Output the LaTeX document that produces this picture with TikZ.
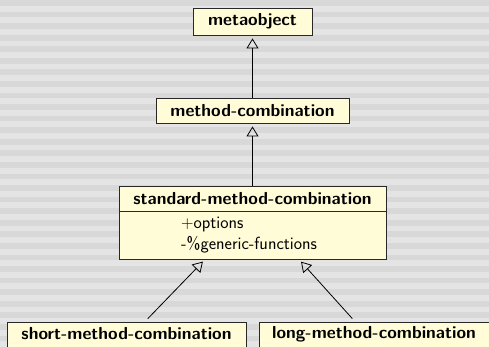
\documentclass[tikz,border=0pt]{standalone}
\usetikzlibrary{arrows.meta}
\definecolor{stripeA}{RGB}{216,216,216}
\definecolor{stripeB}{RGB}{228,228,228}
\definecolor{classfill}{RGB}{255,252,215}
\definecolor{classline}{RGB}{40,40,40}
\tikzset{
  x=1pt, y=-1pt,
  titlefont/.style={font=\fontsize{17.4}{20}\selectfont\sffamily\bfseries},
  classbox/.style={draw=classline, fill=classfill, line width=0.9pt, inner sep=0pt, titlefont},
  member/.style={font=\fontsize{17.6}{20}\selectfont\sffamily, anchor=base west, inner sep=0pt},
  inherits/.style={-{Triangle[open, length=10pt, width=12pt, line width=0.8pt]}, line width=0.8pt, shorten >=3pt},
}
\begin{document}
\begin{tikzpicture}
% striped background
\fill[stripeB] (0,0) rectangle (489,347);
\foreach \i in {0,...,29} {
  \fill[stripeA] (0,{\i*11.57}) rectangle (489,{\i*11.57+5.8});
}
\useasboundingbox (0,0) rectangle (489,347);

% class boxes
\node[classbox, minimum width=119pt, minimum height=27pt] (metaobject) at (252.5,21.5) {metaobject};
\node[classbox, minimum width=193pt, minimum height=25pt] (mc) at (252.5,110.5) {method-combination};
\node[classbox, minimum width=267pt, minimum height=73pt] (smc) at (252.5,222.5) {};
\draw[classline, line width=0.9pt] (smc.west |- 0,211) -- (smc.east |- 0,211);
\node[titlefont] (smctitle) at (252.5,198.5) {standard-method-combination};
\node[member] (opt) at (181,229) {$+$options};
\node[member] (gf) at (181,249) {-\%generic-functions};
\node[classbox, minimum width=239pt, minimum height=38pt] (short) at (126.5,341) {};
\node[titlefont] (shorttitle) at (126.5,334) {short-method-combination};
\node[classbox, minimum width=241pt, minimum height=38pt] (long) at (379.5,341) {};
\node[titlefont] (longtitle) at (374,334) {long-method-combination};

% generalisation arrows
\draw[inherits] (mc.north) -- (metaobject.south);
\draw[inherits] (smc.north) -- (mc.south);
\draw[inherits, shorten <=4pt] ([xshift=18.5pt]short.north) -- ([xshift=-47.5pt]smc.south);
\draw[inherits, shorten <=4pt] ([xshift=-24.5pt]long.north) -- ([xshift=46.5pt]smc.south);
\end{tikzpicture}
\end{document}
